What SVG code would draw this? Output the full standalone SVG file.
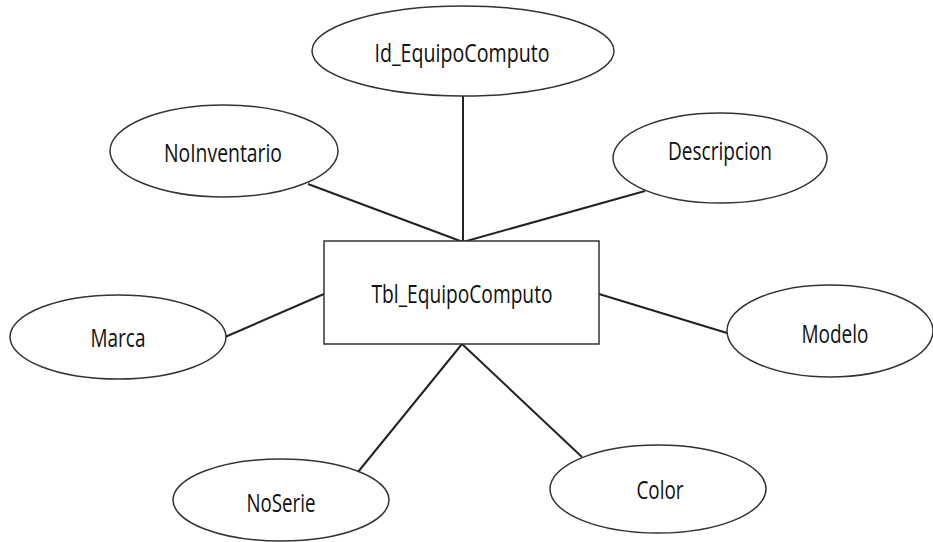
<svg xmlns="http://www.w3.org/2000/svg" width="933" height="542" viewBox="0 0 933 542">
<style>
.ent{fill:#fff;stroke:#333;stroke-width:1.5}
.att{fill:#fff;stroke:#333;stroke-width:1.5}
.lbl{font-family:"Open Sans","Liberation Sans",sans-serif;font-size:25px;fill:#111;text-anchor:middle}
.con line{stroke:#222;stroke-width:2}
</style>
<rect width="933" height="542" fill="#fff"/>
<g id="connectors" class="con">
<line x1="463" y1="96" x2="463" y2="242"/>
<line x1="308" y1="184" x2="463" y2="242"/>
<line x1="645" y1="191" x2="463" y2="242"/>
<line x1="225" y1="337" x2="324" y2="294"/>
<line x1="599" y1="294" x2="727" y2="333"/>
<line x1="462" y1="344" x2="358" y2="472"/>
<line x1="462" y1="344" x2="582" y2="457"/>
</g>
<g id="tbl">
<rect class="ent" x="324" y="241" width="275" height="103"/>
<text class="lbl" x="462" y="303" textLength="181" lengthAdjust="spacingAndGlyphs">Tbl_EquipoComputo</text>
</g>
<g id="id">
<ellipse class="att" cx="463" cy="51" rx="151" ry="45"/>
<text class="lbl" x="462" y="62" textLength="175" lengthAdjust="spacingAndGlyphs">Id_EquipoComputo</text>
</g>
<g id="noinventario">
<ellipse class="att" cx="224" cy="151" rx="114" ry="46"/>
<text class="lbl" x="223" y="162" textLength="118" lengthAdjust="spacingAndGlyphs">NoInventario</text>
</g>
<g id="descripcion">
<ellipse class="att" cx="720" cy="158" rx="107" ry="45"/>
<text class="lbl" x="720" y="160" textLength="104" lengthAdjust="spacingAndGlyphs">Descripcion</text>
</g>
<g id="marca">
<ellipse class="att" cx="118" cy="337" rx="108" ry="42"/>
<text class="lbl" x="118" y="347" textLength="55" lengthAdjust="spacingAndGlyphs">Marca</text>
</g>
<g id="modelo">
<ellipse class="att" cx="830" cy="331" rx="103" ry="46"/>
<text class="lbl" x="835" y="343" textLength="67" lengthAdjust="spacingAndGlyphs">Modelo</text>
</g>
<g id="noserie">
<ellipse class="att" cx="281" cy="500" rx="108" ry="41"/>
<text class="lbl" x="281" y="512" textLength="69" lengthAdjust="spacingAndGlyphs">NoSerie</text>
</g>
<g id="color">
<ellipse class="att" cx="658" cy="489" rx="108" ry="44"/>
<text class="lbl" x="660" y="499" textLength="47" lengthAdjust="spacingAndGlyphs">Color</text>
</g>
</svg>
